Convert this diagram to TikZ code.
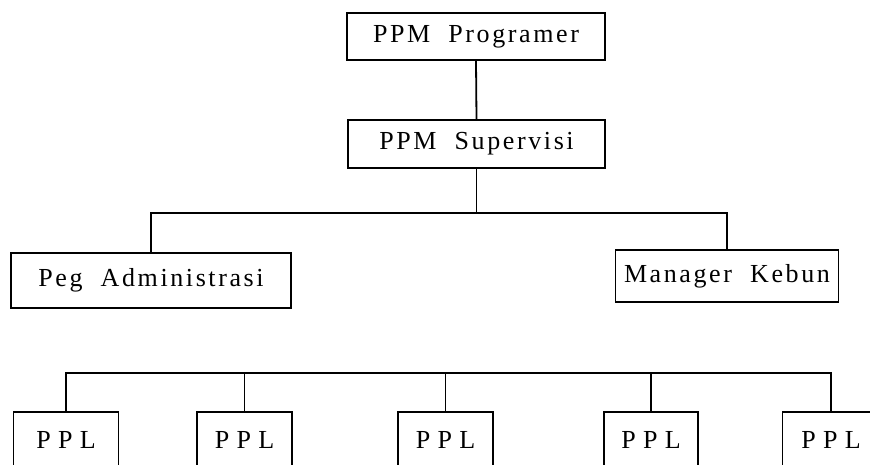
\documentclass[tikz,border=0pt]{standalone}
\usepackage{fontspec}
\setmainfont{Liberation Serif}
\newfontfamily\boxfont[LetterSpace=10,WordSpace=2]{Liberation Serif}
\newfontfamily\pplfont[LetterSpace=28]{Liberation Serif}
\begin{document}
\begin{tikzpicture}[x=1pt,y=-1pt,
  box/.style={draw, line width=1.8pt, inner sep=0pt, font=\fontsize{26}{30}\selectfont\boxfont},
  pplbox/.style={draw, line width=1.8pt, inner sep=0pt, minimum height=56pt, font=\fontsize{26}{30}\selectfont\pplfont},
  conn/.style={line width=1.8pt}]
\useasboundingbox (0,0) rectangle (870,464);
\clip (0,0) rectangle (870,464);
\node[box, minimum width=258pt, minimum height=47pt] (prog) at (476,36.5) {PPM Programer};
\node[box, minimum width=257pt, minimum height=48pt] (sup) at (476.5,144) {PPM Supervisi};
\node[box, minimum width=280pt, minimum height=55pt] (adm) at (151,280.5) {Peg Administrasi};
\node[box, minimum width=223pt, minimum height=52pt] (man) at (727,276) {Manager Kebun};
\node[pplbox, minimum width=105pt] (p1) at (66,440) {PPL};
\node[pplbox, minimum width=95pt] (p2) at (244.5,440) {PPL};
\node[pplbox, minimum width=95pt] (p3) at (445.5,440) {PPL};
\node[pplbox, minimum width=94pt] (p4) at (651,440) {PPL};
\node[pplbox, minimum width=97pt] (p5) at (831,440) {PPL};
\coordinate (bus1) at (0,213);
\coordinate (bus2) at (0,373);
\draw[conn] (prog.south) -- (sup.north);
\draw[conn] (sup.south) -- (sup.south |- bus1);
\draw[conn] (adm.north) |- (man.north |- bus1) -- (man.north);
\draw[conn] (p1.north) |- (p5.north |- bus2) -- (p5.north);
\draw[conn] (p2.north) -- (p2.north |- bus2);
\draw[conn] (p3.north) -- (p3.north |- bus2);
\draw[conn] (p4.north) -- (p4.north |- bus2);
\end{tikzpicture}
\end{document}
